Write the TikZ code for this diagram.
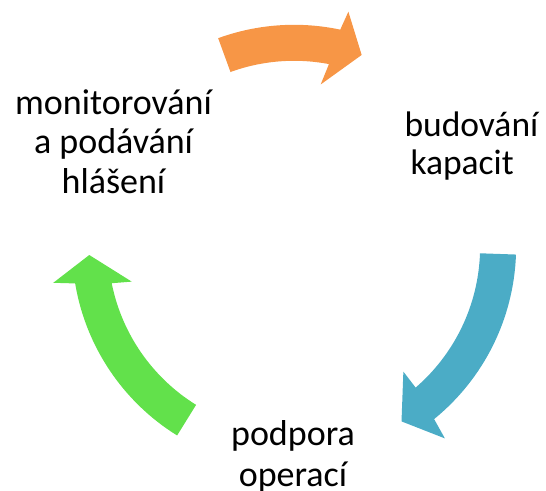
\documentclass[tikz,border=0pt]{standalone}
\usepackage{fontspec}
\setmainfont{Carlito}
\definecolor{arrOrange}{RGB}{247,150,70}
\definecolor{arrBlue}{RGB}{75,172,198}
\definecolor{arrGreen}{RGB}{98,225,75}
\tikzset{
  label text/.style={inner sep=0pt, outer sep=0pt, text=black},
}
\begin{document}
\begin{tikzpicture}[x=1pt,y=1pt]
\useasboundingbox (0,0) rectangle (546,490);
\coordinate (C) at (294.1,243.2);
\begin{scope}[shift={(C)}]
  % orange arrow (top)
  \fill[arrOrange] (110:222) arc[start angle=110,end angle=78,radius=222]
    -- (77:241.3) -- (70.6:203.4) -- (80.7:164.5) -- (79.2:186)
    arc[start angle=79.2,end angle=110,radius=186] -- cycle;
  % blue arrow (right)
  \fill[arrBlue] (-2:222) arc[start angle=-2,end angle=-50.9,radius=222]
    -- (-51.8:243.8) -- (-58.4:205) -- (-48.8:165.9) -- (-49.2:186)
    arc[start angle=-49.2,end angle=-2,radius=186] -- cycle;
  % green arrow (left)
  \fill[arrGreen] (238.2:222) arc[start angle=238.2,end angle=189.5,radius=222]
    -- (188.5:243.5) -- (182.3:205) -- (192.1:166.1) -- (191.3:186)
    arc[start angle=191.3,end angle=238.2,radius=186] -- cycle;
\end{scope}
\node[label text, font=\fontsize{36}{39.6}\selectfont, align=center, anchor=base] (mon) at (113.5,296.7) {monitorování\\a podávání\\hlášení};
\node[label text, font=\fontsize{35.5}{38.5}\selectfont, align=left, anchor=base west] (bud) at (404.5,315) {budování\\\hspace*{6pt}kapacit};
\node[label text, font=\fontsize{36}{41}\selectfont, align=center, anchor=base] (pod) at (293,3.7) {podpora\\operací};
\end{tikzpicture}
\end{document}
